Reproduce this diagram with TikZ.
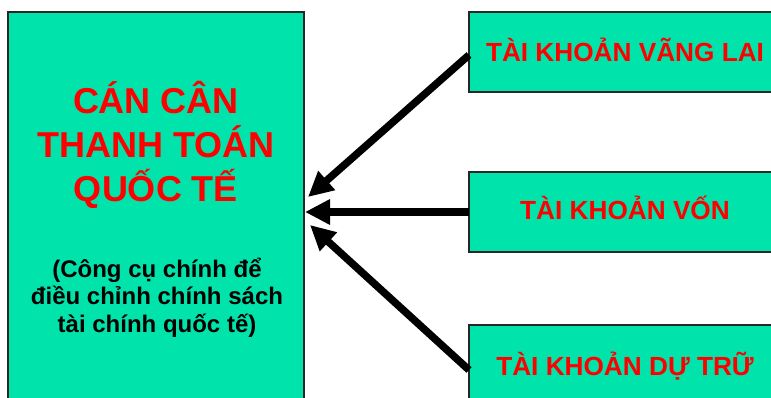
\documentclass[tikz,border=0pt]{standalone}
\usepackage{fontspec}
\setmainfont{Liberation Sans}
\usetikzlibrary{arrows.meta}
\definecolor{boxgreen}{RGB}{0,227,170}
\definecolor{titlered}{RGB}{255,0,0}
\begin{document}
\begin{tikzpicture}[x=1pt,y=-1pt,
  panel/.style={draw=black!85,line width=1.3pt,fill=boxgreen,inner sep=0pt,outer sep=0pt},
  acct/.style={panel,minimum width=312pt,minimum height=80pt,anchor=north west},
  acctlabel/.style={font=\fontsize{26.2}{30}\selectfont\bfseries,text=titlered,inner sep=0pt},
  titleline/.style={font=\fontsize{36}{44}\selectfont\bfseries,text=titlered,inner sep=0pt,anchor=base},
  noteline/.style={font=\fontsize{24}{28}\selectfont\bfseries,text=black,inner sep=0pt,anchor=base},
  flow/.style={line width=7.5pt,-{Triangle[length=25pt,width=24pt]}}]
\useasboundingbox (0,0) rectangle (771,398);
\clip (0,0) rectangle (771,398);

% balance of payments panel
\node[panel,minimum width=296pt,minimum height=400pt,anchor=north west] (bop) at (8,12) {};
\node[titleline] (t1) at (156,113.3) {CÁN CÂN};
\node[titleline] (t2) at (156,157.5) {THANH TOÁN};
\node[titleline] (t3) at (156,201.7) {QUỐC TẾ};
\node[noteline] (n1) at (157,277) {(Công cụ chính để};
\node[noteline] (n2) at (157,304.5) {điều chỉnh chính sách};
\node[noteline] (n3) at (157,332) {tài chính quốc tế)};

% account panels
\node[acct] (ca) at (469,12) {};
\node[acct] (ka) at (469,172) {};
\node[acct] (ra) at (469,325) {};
\node[acctlabel,anchor=base] (cal) at (625,61.5) {TÀI KHOẢN VÃNG LAI};
\node[acctlabel,anchor=base] (kal) at (625,220) {TÀI KHOẢN VỐN};
\node[acctlabel,anchor=base] (ral) at (625,375) {TÀI KHOẢN DỰ TRỮ};

% arrow tips on the panel's right side
\coordinate (in1) at (308,197);
\coordinate (in2) at (305,212);
\coordinate (in3) at (310,225);

\draw[flow] ([yshift=-3pt]ca.west) -- (in1);
\draw[flow] (ka.west) -- (ka.west -| in2);
\draw[flow] ([yshift=-5pt]ra.west) -- (in3);
\end{tikzpicture}
\end{document}
